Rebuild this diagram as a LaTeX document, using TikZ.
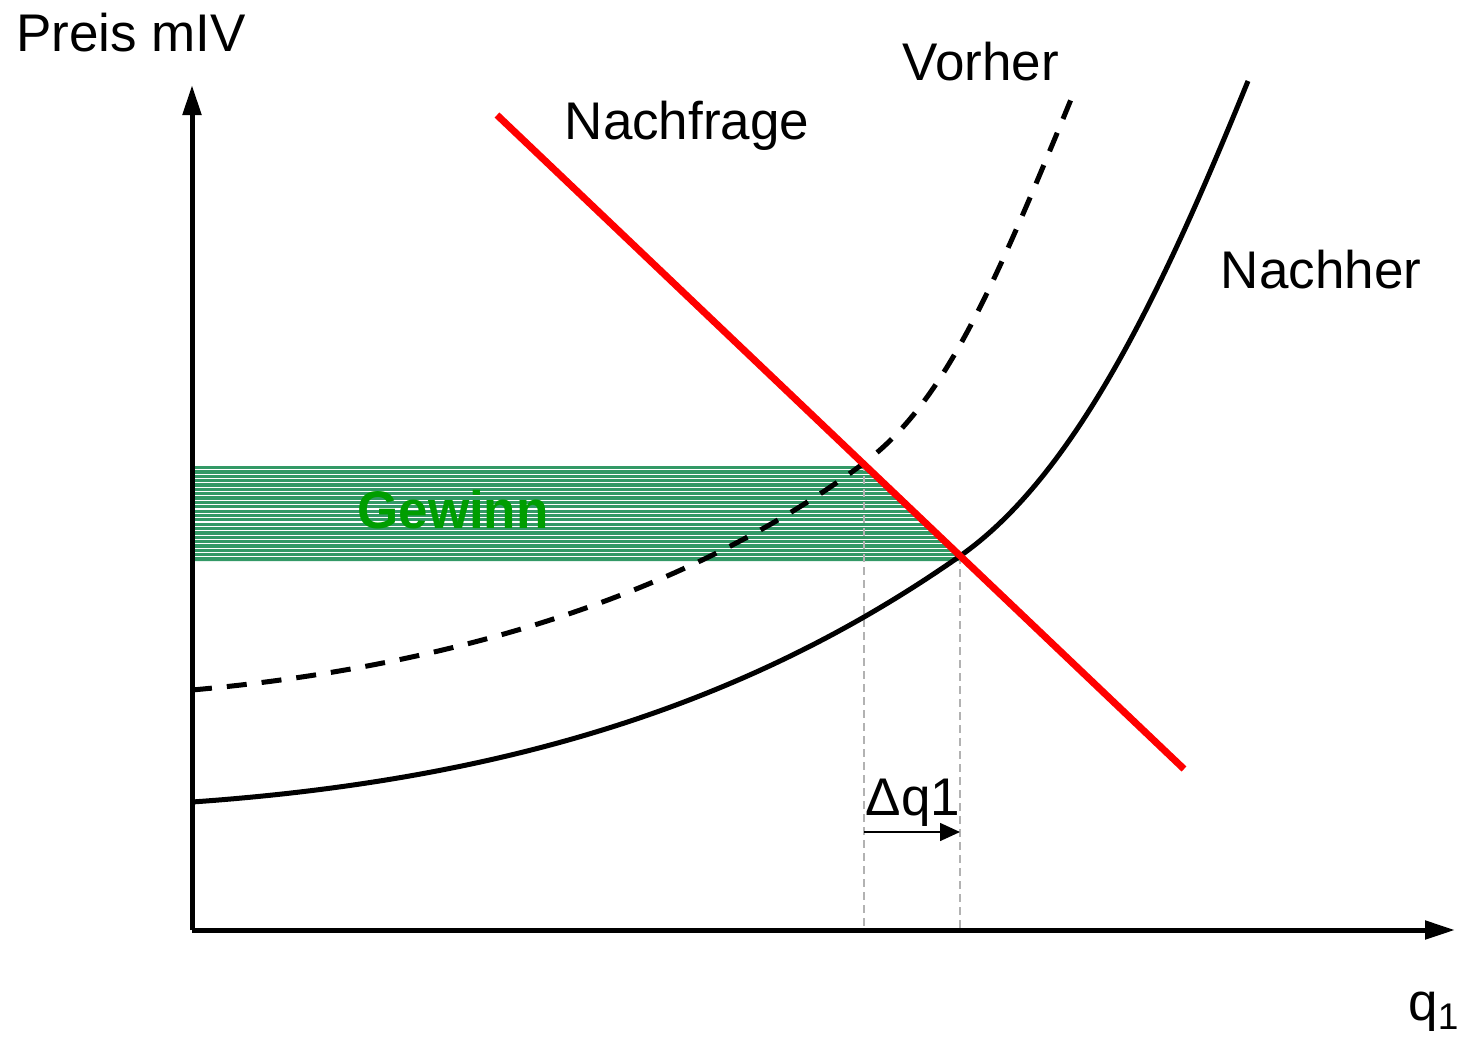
\documentclass[tikz,border=0pt]{standalone}
\usepackage{fontspec}
\setmainfont{Liberation Sans}
\usetikzlibrary{arrows.meta}
\definecolor{stripe}{RGB}{51,153,102}
\definecolor{gewinn}{RGB}{0,158,0}
\begin{document}
\begin{tikzpicture}[x=0.5pt,y=-0.5pt,
  lbl/.style={font=\fontsize{26.5}{30}\selectfont,inner sep=0pt},
  axis/.style={line width=2.5pt,-{Triangle[length=15pt,width=9pt]}},
  guide/.style={gray!60,line width=0.6pt,dash pattern=on 4pt off 2.5pt},
  curve/.style={line width=2.5pt}]
\useasboundingbox (0,0) rectangle (1464,1041);
\coordinate (O) at (192,930);
\coordinate (Ytop) at (192,85);
\coordinate (Xend) at (1455,930);
\coordinate (D1) at (497,115);
\coordinate (D2) at (1184,769);
\coordinate (E1) at (864,463);
\coordinate (E2) at (960,556);
\coordinate (B1) at (864,930);
\coordinate (B2) at (960,930);
\coordinate (V0) at (192,690);
\coordinate (V1) at (1072,97);
\coordinate (N0) at (192,802);
\coordinate (N1) at (1248,81);
% profit area
\fill[stripe] (192,466) -- (866,466) -- (966,561) -- (192,561) -- cycle;
\begin{scope}
\clip (192,466) -- (866,466) -- (966,561) -- (192,561) -- cycle;
\foreach \k in {1,...,21}{
  \fill[white] (192,{466+\k*4.35-1.1}) rectangle (1000,{466+\k*4.35});
}
\end{scope}
\node[lbl,font=\fontsize{26.5}{30}\selectfont\bfseries,text=gewinn] (gw) at (453,510) {Gewinn};
% guides
\draw[guide] (E1) -- (B1);
\draw[guide] (E2) -- (B2);
% curves
\draw[curve,dash pattern=on 10pt off 7.5pt] (V0) .. controls (492,663) and (714,575.5) .. (E1)
  .. controls (944,403) and (992,291.4) .. (V1);
\draw[curve] (N0) .. controls (522,779) and (760,696) .. (E2)
  .. controls (1080,472) and (1168,277) .. (N1);
% demand
\draw[red,line width=3.5pt] (D1) -- (D2);
% axes
\draw[axis] (O) -- (Ytop);
\draw[axis] (O) -- (Xend);
% delta arrow
\coordinate (A1) at (864,832);
\coordinate (A2) at (960,832);
\draw[line width=0.8pt,-{Triangle[length=10pt,width=9pt]}] (A1) -- (A2);
\node[lbl] (dq) at (913,803) {Δq1};
% labels
\node[lbl] (py) at (131,33) {Preis mIV};
\node[lbl] (vor) at (981,62) {Vorher};
\node[lbl] (nf) at (687,126) {Nachfrage};
\node[lbl] (nh) at (1321,270) {Nachher};
\node[lbl] (q) at (1434,1012) {q\textsubscript{1}};
\end{tikzpicture}
\end{document}
